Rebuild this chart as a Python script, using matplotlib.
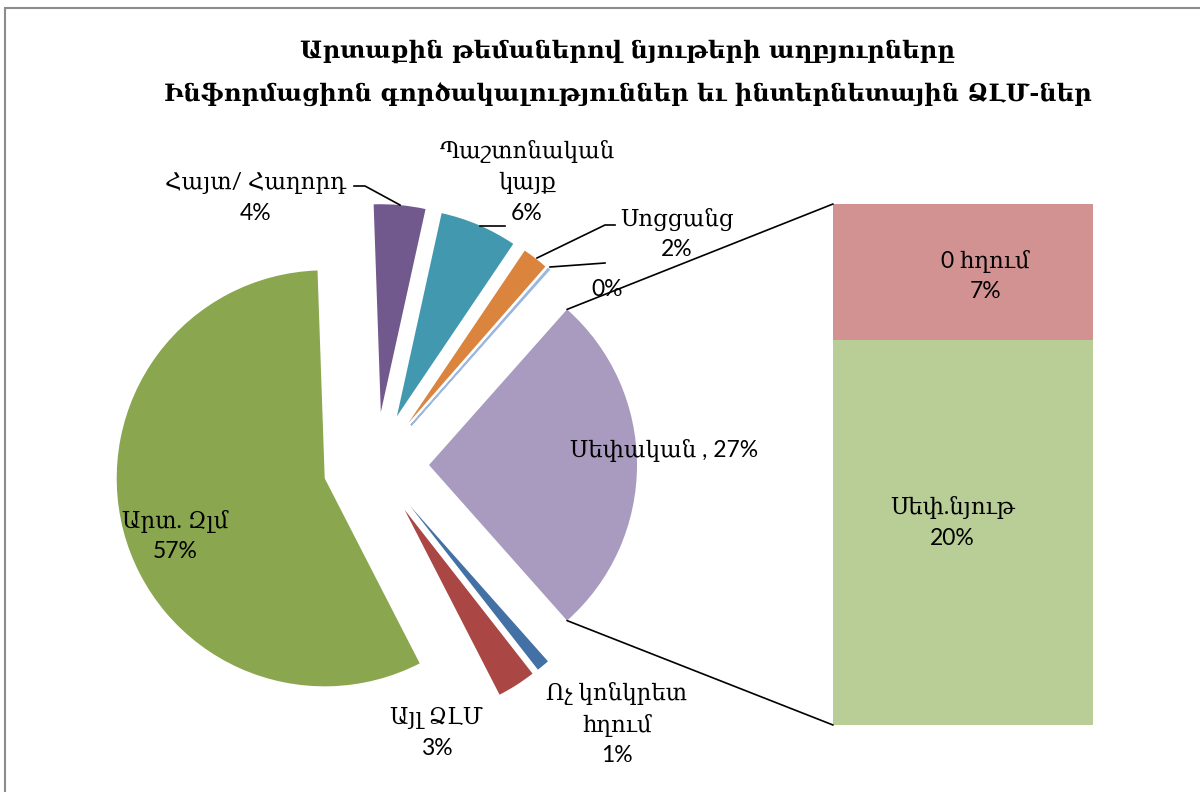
import matplotlib
matplotlib.use("Agg")
import matplotlib.pyplot as plt
from matplotlib.patches import ConnectionPatch, Rectangle
import numpy as np

# --- data -------------------------------------------------------------
pie_labels = ["Սեփական", "", "Սոցցանց", "Պաշտոնական\nկայք", "Հայտ/ Հաղորդ",
              "Արտ. Զլմ", "Այլ ՁԼՄ", "Ոչ կոնկրետ\nհղում"]
pie_values = [26.9, 0.1, 2.0, 6.0, 4.0, 57.0, 3.0, 1.0]
pie_colors = ["#A99BBF", "#9BB7E0", "#DA843E", "#4299AF", "#72598D",
              "#8AA64E", "#AA4643", "#4471A5"]

bar_labels = ["Սեփ.նյութ", "0 հղում"]
bar_values = [19.9, 7.0]
bar_colors = ["#B9CD96", "#D39292"]

title = ("Արտաքին թեմաներով նյութերի աղբյուրները\n"
         "Ինֆորմացիոն գործակալություններ եւ ինտերնետային ՁԼՄ-ներ")

W, H = 1200, 792
FONT = ["Lato", "DejaVu Serif", "DejaVu Sans"]


def Y(y):
    # pixel row -> data y
    return H - y


def pct(v):
    return f"{round(v)}%"


fig = plt.figure(figsize=(12, 7.92), dpi=100)
ax = fig.add_axes([0, 0, 1, 1])
ax.set_xlim(0, W)
ax.set_ylim(0, H)
ax.set_aspect("equal")
ax.axis("off")

# chart frame (only left/top edges fall inside the picture)
ax.add_patch(Rectangle((5, Y(800)), 1300, 800 - 8, fill=False,
                       edgecolor="#8C8C8C", linewidth=1.5))

# --- pie ----------------------------------------------------------------
wedges, _ = ax.pie(pie_values, colors=pie_colors, startangle=-48.42,
                   counterclock=True, radius=208, center=(376, Y(465)),
                   explode=[53] * len(pie_values), frame=True)
for w in wedges:
    w.set_linewidth(0)
wedges[1].set_edgecolor("#9BB7E0")
wedges[1].set_linewidth(1.2)

# --- bar (second plot) --------------------------------------------------
bx0, by0, bw, bh = 833, 725, 260, 521
bax = fig.add_axes([bx0 / W, (H - by0) / H, bw / W, bh / H])
bottom = 0
for v, c in zip(bar_values, bar_colors):
    bax.bar(0, v, width=1, bottom=bottom, color=c, linewidth=0)
    bottom += v
bax.set_xlim(-0.5, 0.5)
bax.set_ylim(0, sum(bar_values))
bax.axis("off")

# connector lines from the 'Սեփական' wedge to the bar
w0 = wedges[0]
cx, cy = w0.center
for ang, corner in [(w0.theta2, (0, 1)), (w0.theta1, (0, 0))]:
    p = (cx + w0.r * np.cos(np.radians(ang)), cy + w0.r * np.sin(np.radians(ang)))
    con = ConnectionPatch(xyA=p, coordsA=ax.transData, xyB=corner,
                          coordsB=bax.transAxes, color="black", linewidth=1.2)
    fig.add_artist(con)

# --- labels -------------------------------------------------------------
fs = 16.5
ls = 1.5
ax.text(256, Y(198), f"{pie_labels[4]}\n{pct(pie_values[4])}", ha="center",
        va="center", fontsize=fs, family=FONT, linespacing=ls)
ax.text(527, Y(182), f"{pie_labels[3]}\n{pct(pie_values[3])}", ha="center",
        va="center", fontsize=fs, family=FONT, linespacing=ls)
ax.text(677, Y(234), f"{pie_labels[2]}\n{pct(pie_values[2])}", ha="center",
        va="center", fontsize=fs, family=FONT, linespacing=ls)
ax.text(607, Y(289), pct(pie_values[1]), ha="center", va="center",
        fontsize=fs, family=FONT)
ax.text(664, Y(451), f"{pie_labels[0]} , {pct(pie_values[0])}", ha="center",
        va="center", fontsize=fs, family=FONT)
ax.text(175, Y(536), f"{pie_labels[5]}\n{pct(pie_values[5])}", ha="center",
        va="center", fontsize=fs, family=FONT, linespacing=ls)
ax.text(437, Y(733), f"{pie_labels[6]}\n{pct(pie_values[6])}", ha="center",
        va="center", fontsize=fs, family=FONT, linespacing=ls)
ax.text(617, Y(724), f"{pie_labels[7]}\n{pct(pie_values[7])}", ha="center",
        va="center", fontsize=fs, family=FONT, linespacing=ls)

# bar labels
bottom = 0
bar_text_x = [-0.04, 0.085]
bar_text_f = [0.525, 0.47]
for i, v in enumerate(bar_values):
    bax.text(bar_text_x[i], bottom + v * bar_text_f[i],
             f"{bar_labels[i]}\n{pct(v)}", ha="center", va="center",
             fontsize=fs, family=FONT, linespacing=ls)
    bottom += v

# leader lines
leaders = [
    [(354, 186), (365, 186), (400, 205)],
    [(480, 226), (505, 226)],
    [(537, 258), (605, 225), (615, 225)],
    [(550, 267), (605, 263)],
]
for pts in leaders:
    xs = [p[0] for p in pts]
    ys = [Y(p[1]) for p in pts]
    ax.plot(xs, ys, color="black", linewidth=1.2)

# title
fig.text(628 / W, 1 - 73 / H, title, ha="center", va="center",
         fontsize=17.4, fontweight="bold", family=["DejaVu Serif", "DejaVu Sans"],
         linespacing=2.0)

fig.savefig("out.png", dpi=100)
